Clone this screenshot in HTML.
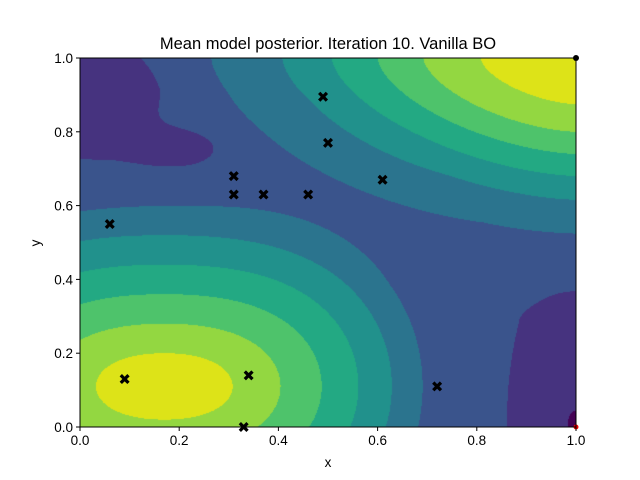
<!DOCTYPE html>
<html><head><meta charset="utf-8">
<style>
html,body{margin:0;padding:0;background:#fff;}
#wrap{position:relative;width:640px;height:480px;overflow:hidden;font-family:"Liberation Sans","DejaVu Sans",sans-serif;}
#field{position:absolute;left:80px;top:58px;}
svg{position:absolute;left:0;top:0;}
</style></head>
<body>
<div id="wrap">
<canvas id="field" width="496" height="369"></canvas>
<svg id="svg" width="640" height="480"></svg>
</div>
<script>
// sampled points (data)
const ptX = [0.09, 0.34, 0.33, 0.06, 0.31, 0.31, 0.37, 0.46, 0.49, 0.50, 0.61, 0.72];
const ptY = [0.13, 0.14, 0.00, 0.55, 0.68, 0.63, 0.63, 0.63, 0.895, 0.77, 0.67, 0.11];
const xTicks = [0.0, 0.2, 0.4, 0.6, 0.8, 1.0];
const yTicks = [0.0, 0.2, 0.4, 0.6, 0.8, 1.0];
const levelColors = ["#440154","#46337f","#3a548c","#2b748e","#21918c","#23a983","#4ec36b","#93d741","#dde318"];
// peak profiles (distance -> height)
const peak1D = [0, 0.09, 0.17, 0.25, 0.33, 0.41, 0.49, 0.6, 0.8];
const peak1V = [7.65, 5.85, 4.85, 3.85, 2.85, 1.85, 0.85, 0.2, 0];
const peak2D = [0, 0.125, 0.2, 0.26, 0.32, 0.385, 0.48, 0.55, 0.7];
const peak2V = [7.65, 5.85, 4.85, 3.85, 2.85, 1.85, 0.85, 0.1, 0];
const baseVal = 2.15;
// lows: [cx, cy, amp, sx, sy]
const lowCx = [0.20, 0.00, 1.00, 1.00];
const lowCy = [0.75, 0.88, 0.05, 0.00];
const lowAmp = [-0.6, -0.8, -0.65, -1.1];
const lowSx = [0.10, 0.15, 0.13, 0.02];
const lowSy = [0.06, 0.16, 0.29, 0.05];

const L=80, T=58, W=496, H=369;
const sx = v => L + v*W;
const sy = v => T + H - v*H;

function interp(d, D, V){
  if(d>=D[D.length-1]) return V[V.length-1];
  for(let i=1;i<D.length;i++){ if(d<D[i]){ const t=(d-D[i-1])/(D[i]-D[i-1]); return V[i-1]+t*(V[i]-V[i-1]); } }
  return V[V.length-1];
}
function f(x,y){
  let s=baseVal;
  const dx1=Math.abs(x-0.17), dy1=y-0.11;
  const xs=dx1*(0.55+0.75*dx1);
  s+=interp(Math.sqrt(xs*xs+dy1*dy1), peak1D, peak1V);
  const ax=Math.abs(x-1.0)*0.65, ay=Math.abs(y-1.0);
  const d2=Math.pow(Math.pow(ax,1.6)+Math.pow(ay,1.6),1/1.6);
  s+=interp(d2, peak2D, peak2V);
  for(let i=0;i<lowCx.length;i++){
    const dx=(x-lowCx[i])/lowSx[i], dy=(y-lowCy[i])/lowSy[i];
    s+=lowAmp[i]*Math.exp(-(dx*dx+dy*dy));
  }
  return s;
}
function hex(c){return [parseInt(c.slice(1,3),16),parseInt(c.slice(3,5),16),parseInt(c.slice(5,7),16)];}
const rgb = levelColors.map(hex);
const ctx=document.getElementById('field').getContext('2d');
const img=ctx.createImageData(W,H);
for(let j=0;j<H;j++){for(let i=0;i<W;i++){
  const v=f((i+0.5)/W, 1-(j+0.5)/H);
  let k=Math.floor(v); if(k<0)k=0; if(k>8)k=8;
  const c=rgb[k], p=(j*W+i)*4;
  img.data[p]=c[0];img.data[p+1]=c[1];img.data[p+2]=c[2];img.data[p+3]=255;
}}
ctx.putImageData(img,0,0);

const svg=document.getElementById('svg');
const NS='http://www.w3.org/2000/svg';
function mk(tag,attrs,parent){const e=document.createElementNS(NS,tag);for(const k in attrs)e.setAttribute(k,attrs[k]);(parent||svg).appendChild(e);return e;}

ptX.forEach((x,i)=>{
  const cx=sx(x), cy=sy(ptY[i]), a=5, w=2.3;
  const m=mk('path',{d:`M${cx-a} ${cy-a+w}L${cx-a+w} ${cy-a}L${cx} ${cy-w}L${cx+a-w} ${cy-a}L${cx+a} ${cy-a+w}L${cx+w} ${cy}L${cx+a} ${cy+a-w}L${cx+a-w} ${cy+a}L${cx} ${cy+w}L${cx-a+w} ${cy+a}L${cx-a} ${cy+a-w}L${cx-w} ${cy}Z`,fill:'#000'});
  
  
});
const best=mk('circle',{cx:sx(1.0),cy:sy(1.0),r:3,fill:'#000'});


const red=mk('circle',{cx:sx(1.0),cy:sy(0.0),r:2.5,fill:'#e00'});



const fr=mk('rect',{x:L,y:T,width:W,height:H,fill:'none',stroke:'#000','stroke-width':1});



xTicks.forEach(t=>{
  const x=sx(t);
  const tk=mk('line',{x1:x,y1:T+H,x2:x,y2:T+H+4,stroke:'#000'});
  
  
  const lb=mk('text',{x:x,y:T+H+18,'text-anchor':'middle','font-size':'13.5px',fill:'#000'});
  lb.textContent=t.toFixed(1);
  
  
});
yTicks.forEach(t=>{
  const y=sy(t);
  const tk=mk('line',{x1:L-4,y1:y,x2:L,y2:y,stroke:'#000'});
  
  
  const lb=mk('text',{x:L-7,y:y+5,'text-anchor':'end','font-size':'13.5px',fill:'#000'});
  lb.textContent=t.toFixed(1);
  
  
});
const xt=mk('text',{x:328,y:467,'text-anchor':'middle','font-size':'13.5px'});
xt.textContent='x';


const yt=mk('text',{x:40,y:243,'text-anchor':'middle','font-size':'13.5px',transform:'rotate(-90 40 243)'});
yt.textContent='y';


const tt=mk('text',{x:328,y:49,'text-anchor':'middle','font-size':'16.5px'});
tt.textContent='Mean model posterior. Iteration 10. Vanilla BO';


</script>
</body></html>
